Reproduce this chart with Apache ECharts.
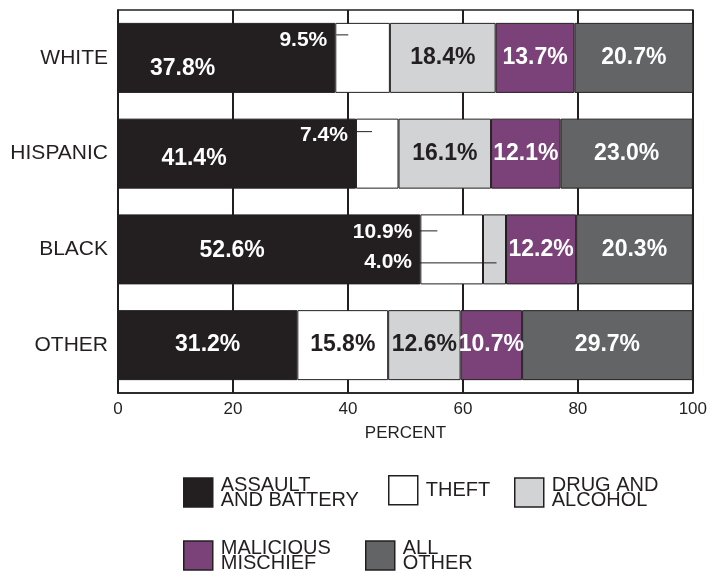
<!DOCTYPE html>
<html>
<head>
<meta charset="utf-8">
<script src="https://cdn.jsdelivr.net/npm/echarts@6/dist/echarts.min.js"></script>
<style>
  html, body { margin: 0; padding: 0; background: #fff; }
  #main { width: 710px; height: 571px; }
</style>
</head>
<body>
<div id="main"></div>
<script>
  // data
  var groups = ['WHITE', 'HISPANIC', 'BLACK', 'OTHER'];
  var offenses = ['ASSAULT AND BATTERY', 'THEFT', 'DRUG AND ALCOHOL', 'MALICIOUS MISCHIEF', 'ALL OTHER'];
  var legendText = ['ASSAULT\nAND BATTERY', 'THEFT', 'DRUG AND\nALCOHOL', 'MALICIOUS\nMISCHIEF', 'ALL\nOTHER'];
  var assault = [37.8, 41.4, 52.6, 31.2];
  var theft = [9.5, 7.4, 10.9, 15.8];
  var drug = [18.4, 16.1, 4.0, 12.6];
  var mischief = [13.7, 12.1, 12.2, 10.7];
  var allOther = [20.7, 23.0, 20.3, 29.7];
  var xTicks = [0, 20, 40, 60, 80, 100];

  var dark = '#231f20';
  var font = 'Liberation Sans, Arial, sans-serif';
  var colors = ['#231f20', '#ffffff', '#d1d3d4', '#7b4279', '#636466'];
  var labelColors = ['#fff', dark, dark, '#fff', '#fff'];
  var values = [assault, theft, drug, mischief, allOther];

  // labels that sit off-centre in the original
  var tweaks = {
    '0-0': { offset: [-44, 11] },
    '0-1': { offset: [-43, 5] },
    '0-2': { offset: [-37, 1] },
    '1-0': { position: 'left', distance: 8, offset: [0, -18], color: '#fff', fontSize: 21 },
    '1-1': { position: 'left', distance: 8, offset: [0, -18], color: '#fff', fontSize: 21 },
    '1-2': { position: 'left', distance: 8, offset: [0, -17], color: '#fff', fontSize: 21 },
    '2-2': { position: 'left', distance: 71, offset: [0, 13], color: '#fff', fontSize: 21 }
  };

  var chart = echarts.init(document.getElementById('main'));

  var series = offenses.map(function (name, s) {
    return {
      name: name,
      type: 'bar',
      stack: 'total',
      barWidth: 70,
      itemStyle: { color: colors[s], borderColor: dark, borderWidth: 1 },
      label: {
        show: true,
        position: 'inside',
        color: labelColors[s],
        fontSize: 23,
        fontWeight: 'bold',
        fontFamily: font,
        formatter: function (p) { return p.value.toFixed(1) + '%'; }
      },
      data: values[s].map(function (v, i) {
        var t = tweaks[s + '-' + i];
        return t ? { value: v, label: t } : v;
      })
    };
  });

  var legendPos = [
    { left: 183, top: 475 },
    { left: 388, top: 475 },
    { left: 514, top: 475 },
    { left: 183, top: 538 },
    { left: 365, top: 538 }
  ];

  var legends = offenses.map(function (name, s) {
    return {
      data: [name],
      left: legendPos[s].left,
      top: legendPos[s].top,
      padding: 0,
      selectedMode: false,
      icon: 'rect',
      itemWidth: 29,
      itemHeight: 29,
      itemStyle: { borderColor: dark, borderWidth: 1.5 },
      textStyle: {
        color: dark,
        fontSize: 20,
        lineHeight: 15,
        fontFamily: font,
        padding: [0, 0, 0, 3]
      },
      formatter: function () { return legendText[s]; }
    };
  });

  chart.setOption({
    backgroundColor: '#fff',
    animation: false,
    grid: {
      left: 118, right: 17, top: 10, bottom: 178,
      show: true, borderColor: dark, borderWidth: 1.5
    },
    legend: legends,
    xAxis: {
      type: 'value',
      min: 0, max: 100, interval: 20,
      name: 'PERCENT',
      nameLocation: 'middle',
      nameGap: 32,
      nameTextStyle: { color: dark, fontSize: 17, fontFamily: font },
      axisLine: { show: true, lineStyle: { color: dark, width: 1.5 } },
      axisTick: { show: false },
      axisLabel: {
        color: dark, fontSize: 17, margin: 8, fontFamily: font,
        formatter: function (v) { return xTicks.indexOf(v) >= 0 ? String(v) : ''; }
      },
      splitLine: { show: true, lineStyle: { color: dark, width: 2 } }
    },
    yAxis: {
      type: 'category',
      data: groups,
      inverse: true,
      axisLine: { show: true, lineStyle: { color: dark, width: 1.5 } },
      axisTick: { show: false },
      axisLabel: { color: dark, fontSize: 21, margin: 10, fontFamily: font }
    },
    series: series
  });

  // leader lines from the small labels into their segments
  function px(x, i) { return chart.convertToPixel({ gridIndex: 0 }, [x, groups[i]]); }
  var lines = [];
  function leader(i, fromVal, toVal, dy, x1Extra, x2Extra) {
    var a = px(fromVal, i), b = px(toVal, i);
    lines.push({
      type: 'line',
      z: 100,
      shape: { x1: a[0] + x1Extra, y1: a[1] + dy, x2: b[0] + x2Extra, y2: a[1] + dy },
      style: { stroke: dark, lineWidth: 1 }
    });
  }
  leader(0, assault[0], assault[0], -23, 1, 13);
  leader(1, assault[1], assault[1], -22, 1, 16);
  leader(2, assault[2], assault[2], -18.5, -7, 17);
  leader(2, assault[2], assault[2] + theft[2] + drug[2] / 2, 13.5, -7, 2);
  chart.setOption({ graphic: { elements: lines } });
</script>
</body>
</html>
